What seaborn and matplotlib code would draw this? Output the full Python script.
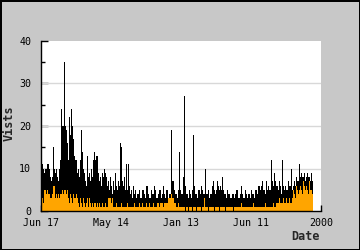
import numpy as np
import pandas as pd
import matplotlib
matplotlib.use("Agg")
import matplotlib.pyplot as plt
from matplotlib.ticker import MultipleLocator
import seaborn as sns

tick_labels = ["Jun 17", "May 14", "Jan 13", "Jun 11", "2000"]

visits = [
    11, 11, 10, 9, 10, 10, 11, 11, 10, 8, 7, 8, 15, 10, 9, 10, 8, 7, 10, 12,
    24, 20, 20, 35, 20, 19, 16, 12, 22, 18, 24, 20, 17, 13, 12, 12, 9, 10, 8, 12,
    19, 14, 10, 9, 7, 6, 13, 8, 9, 7, 10, 8, 12, 14, 12, 13, 13, 9, 7, 8,
    6, 9, 8, 10, 9, 8, 6, 7, 5, 8, 6, 4, 7, 5, 9, 6, 5, 7, 6, 16,
    15, 7, 6, 8, 5, 11, 5, 11, 6, 4, 5, 3, 6, 4, 5, 3,
    4, 4, 5, 3, 3, 5, 5, 4, 3, 6, 6, 4, 3, 3, 5, 4, 4, 6, 5, 3,
    3, 4, 5, 5, 3, 4, 6, 4, 3, 5, 5, 3, 4, 4, 19, 7, 7, 5, 4, 4,
    3, 5, 14, 5, 4, 4,
    8, 27, 6, 4, 4, 3, 5, 4, 3, 5, 18, 6, 4, 4, 3, 5, 5, 4, 6, 5,
    4, 4, 10, 4, 4, 5, 3, 4, 4, 6, 7, 5, 4, 5, 7, 6, 5, 6, 5, 8,
    5, 4, 4, 3, 5, 4, 4,
    3, 3, 4, 4, 3, 4, 5, 5, 3, 3, 4, 6, 4, 3, 3, 5, 4, 3, 4, 4,
    3, 5, 4, 4, 3, 5, 5, 4, 6, 6, 5, 6, 7, 5, 5, 4, 7, 5, 6, 5,
    5, 12, 7, 6, 9, 7, 6,
    6, 5, 7, 6, 4, 12, 6, 5, 6, 5, 5, 7, 6, 6, 10, 5, 6, 7, 6, 8,
    7, 7, 11, 8, 9, 8, 8, 9, 7, 8, 9, 8, 8, 7, 9, 7,
]

other = [
    2, 3, 2, 5, 5, 4, 5, 4, 4, 3, 3, 4, 6, 6, 3, 4, 3, 4, 3, 4,
    4, 5, 4, 5, 5, 4, 5, 3, 2, 4, 3, 2, 4, 3, 3, 4, 3, 2, 1, 3,
    2, 1, 3, 2, 1, 2, 3, 1, 3, 2, 1, 2, 1, 2, 2, 1, 2, 1, 2, 1,
    1, 2, 1, 1, 2, 1, 1, 3, 3, 3, 2, 3, 1, 1, 1, 2, 1, 1, 1, 1,
    2, 1, 1, 1, 1, 1, 2, 1, 1, 1, 1, 1, 1, 2, 1, 1,
    1, 1, 2, 1, 1, 2, 1, 1, 1, 2, 1, 1, 2, 1, 1, 1, 2, 1, 1, 1,
    2, 2, 1, 2, 2, 2, 1, 2, 2, 2, 2, 3, 3, 3, 4, 3, 3, 2, 2, 1,
    1, 2, 1, 1, 1, 1,
    1, 1, 0, 1, 1, 0, 1, 1, 1, 0, 1, 1, 1, 0, 1, 1, 1, 1, 0, 1,
    1, 3, 1, 1, 1, 0, 1, 1, 1, 1, 1, 0, 1, 1, 1, 1, 0, 1, 1, 1,
    1, 1, 0, 1, 1, 1, 1,
    1, 1, 1, 0, 1, 1, 1, 1, 1, 1, 1, 2, 1, 1, 1, 1, 1, 1, 1, 1,
    1, 1, 1, 2, 1, 1, 1, 1, 1, 1, 1, 1, 1, 1, 1, 2, 1, 1, 1, 1,
    1, 1, 1, 2, 1, 1, 2,
    2, 2, 3, 2, 2, 2, 3, 2, 2, 3, 2, 2, 3, 2, 2, 3, 5, 4, 3, 6,
    5, 4, 5, 6, 5, 4, 7, 6, 5, 6, 5, 4, 7, 5, 5, 4,
]

n = min(len(visits), len(other))
df = pd.DataFrame({"pos": np.arange(n) + 0.5, "visits": visits[:n], "other": other[:n]})

sns.set_style("white")
plt.rcParams["font.family"] = ["DejaVu Sans Mono", "DejaVu Sans"]

fig = plt.figure(figsize=(3.6, 2.5), dpi=100, facecolor="#c8c8c8")
fig.patch.set_edgecolor("black")
fig.patch.set_linewidth(2)
ax = fig.add_axes([41 / 360, 39 / 250, 280 / 360, 170 / 250])
ax.set_facecolor("white")

sns.barplot(data=df, x="pos", y="visits", ax=ax, native_scale=True, width=1.0,
            color="black", saturation=1, errorbar=None, linewidth=0, zorder=2)
sns.barplot(data=df, x="pos", y="other", ax=ax, native_scale=True, width=1.0,
            color="#ffa500", saturation=1, errorbar=None, linewidth=0, zorder=4)

ax.set_xlim(0, 280)
ax.set_ylim(0, 40)
ax.set_xticks([0, 70, 140, 210, 280])
ax.set_xticklabels(tick_labels, fontsize=7.2)
ax.yaxis.set_major_locator(MultipleLocator(10))
ax.yaxis.set_minor_locator(MultipleLocator(5))
ax.tick_params(axis="y", which="major", direction="in", length=5, width=1,
               labelsize=7.2, pad=7, colors="black", left=True)
ax.tick_params(axis="y", which="minor", direction="in", length=3, width=1, left=True,
               colors="black")
ax.tick_params(axis="x", which="major", direction="in", length=4, width=1,
               labelsize=7.2, pad=5, colors="black", bottom=True)

for yv in (10, 20, 30):
    ax.axhline(yv, color="#d8d8d8", linewidth=1, zorder=1)

for side in ("top", "right"):
    ax.spines[side].set_visible(False)
for side in ("left", "bottom"):
    ax.spines[side].set_color("black")
    ax.spines[side].set_linewidth(1)
    ax.spines[side].set_zorder(5)

ax.set_xlabel("")
ax.set_ylabel("")
fig.text(9 / 360, 1 - 123 / 250, "Vists", rotation=90, ha="center", va="center",
         fontsize=8.5, fontweight="bold")
fig.text(320 / 360, 1 - 236 / 250, "Date", ha="right", va="center",
         fontsize=8.5, fontweight="bold")

fig.savefig("out.png", dpi=100, facecolor=fig.get_facecolor(), edgecolor="black")
